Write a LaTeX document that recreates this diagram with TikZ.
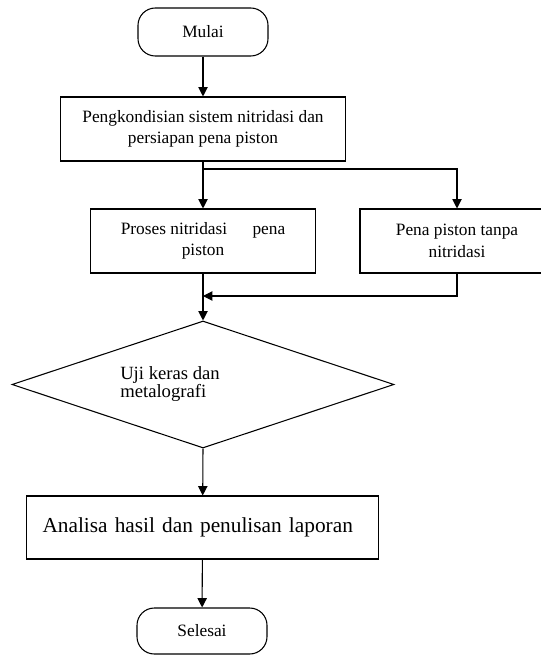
\documentclass[tikz,border=0pt]{standalone}
\usepackage{fontspec}
\setmainfont{Liberation Serif}
\usetikzlibrary{arrows.meta,shapes.geometric}

\begin{document}
\begin{tikzpicture}[
    x=0.75pt, y=-0.75pt,
    terminal/.style={draw, line width=0.8pt, rounded corners=13pt,
                     minimum width=97.5pt, minimum height=36pt,
                     font=\fontsize{13}{16}\selectfont},
    process/.style={draw, line width=0.8pt, minimum height=48pt,
                    align=center, font=\fontsize{13}{16}\selectfont},
    decision/.style={draw, line width=0.8pt, diamond, inner sep=0pt,
                     minimum width=286.5pt, minimum height=95.25pt},
    flow/.style={-{Triangle[length=7pt,width=7pt]}, line width=0.8pt},
    lbl/.style={font=\fontsize{14}{12.5}\selectfont, align=left,
                inner sep=0pt},
]

\useasboundingbox (0,0) rectangle (541,656);

% --- Blocks ---
\node[terminal] (start) at (203,32) {Mulai};
\node[process, minimum width=213.75pt] (prep) at (203,129)
    {Pengkondisian sistem nitridasi dan\\persiapan pena piston};
\node[process, minimum width=168.75pt] (nitr) at (203,241)
    {Proses nitridasi\hspace{19pt}pena\\piston};
\node[process, minimum width=145.5pt] (plain) at (457,241)
    {Pena piston tanpa\\nitridasi};
\node[decision] (test) at (203,384.5) {};
\node[lbl, anchor=west] (testlbl) at (120,384)
    {Uji keras dan\\metalografi};
\node[process, minimum height=47.25pt, text width=240pt, inner xsep=12pt,
      align=left, font=\fontsize{16}{19}\selectfont] (report) at (202.5,527.5)
    {Analisa hasil dan penulisan laporan};
\node[terminal, minimum height=34.5pt] (stop) at (202,631) {Selesai};

% split and join points
\coordinate (split) at (203,169);
\coordinate (join) at (203,296);

% --- Connectors ---
\draw[flow] (start) -- (prep);
\draw[flow] (prep) -- (nitr);
\draw[flow] (split) -| (plain.north);
\draw[flow] (nitr) -- (test.north);
\draw[flow] (plain.south) |- (join);
\draw[flow] (test.south) -- (report);
\draw[flow] (report) -- (stop);

\end{tikzpicture}
\end{document}
